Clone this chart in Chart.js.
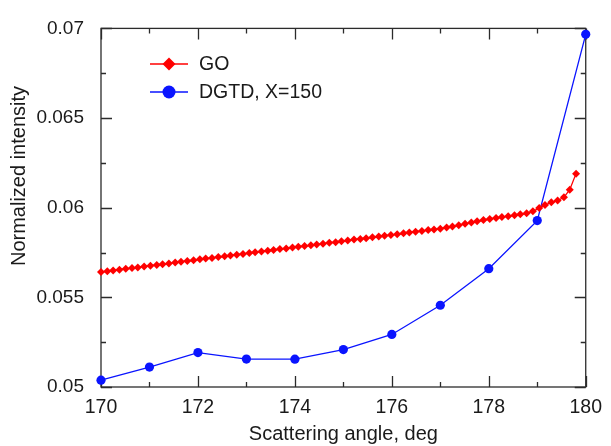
<!DOCTYPE html>
<html><head><meta charset="utf-8">
<script src="https://cdn.jsdelivr.net/npm/chart.js@4/dist/chart.umd.min.js"></script>
<style>html,body{margin:0;padding:0;background:#fff}#wrap{width:611px;height:446px;position:relative}</style>
</head><body><div id="wrap"><canvas id="c" width="611" height="446"></canvas></div>
<script>
// ---- data ----
const goAngles = [170.00,170.13,170.25,170.38,170.51,170.64,170.76,170.89,171.02,171.15,171.27,171.40,171.53,171.65,171.78,171.91,172.04,172.16,172.29,172.42,172.55,172.67,172.80,172.93,173.06,173.18,173.31,173.44,173.56,173.69,173.82,173.95,174.07,174.20,174.33,174.45,174.58,174.71,174.84,174.96,175.09,175.22,175.35,175.47,175.60,175.73,175.85,175.98,176.11,176.24,176.36,176.49,176.62,176.75,176.87,177.00,177.13,177.25,177.38,177.51,177.64,177.76,177.89,178.02,178.15,178.27,178.40,178.53,178.65,178.78,178.91,179.04,179.16,179.29,179.42,179.55,179.67,179.80];
const goIntensity = [0.05641,0.05645,0.05650,0.05654,0.05659,0.05663,0.05667,0.05672,0.05676,0.05681,0.05685,0.05689,0.05694,0.05698,0.05703,0.05707,0.05712,0.05716,0.05720,0.05725,0.05729,0.05733,0.05738,0.05742,0.05747,0.05751,0.05756,0.05760,0.05764,0.05769,0.05773,0.05778,0.05782,0.05786,0.05791,0.05795,0.05799,0.05804,0.05808,0.05813,0.05817,0.05822,0.05826,0.05830,0.05835,0.05839,0.05843,0.05848,0.05852,0.05857,0.05861,0.05866,0.05870,0.05875,0.05879,0.05883,0.05889,0.05895,0.05902,0.05910,0.05917,0.05924,0.05931,0.05937,0.05943,0.05948,0.05953,0.05958,0.05963,0.05969,0.05980,0.05998,0.06015,0.06030,0.06040,0.06058,0.06100,0.06190];
const dgtdAngles = [170,171,172,173,174,175,176,177,178,179,180];
const dgtdIntensity = [0.05038,0.05111,0.05192,0.05156,0.05155,0.05209,0.05293,0.05456,0.05660,0.05928,0.06967];
const seriesNames = ['GO','DGTD, X=150'];
const xTickValues = [170,172,174,176,178,180];
const xMinorTicks = [171,173,175,177,179];
const yTickValues = [0.05,0.055,0.06,0.065,0.07];
const yTickLabels = ['0.05','0.055','0.06','0.065','0.07'];
const yMinorTicks = [0.0525,0.0575,0.0625,0.0675];
const xTitle = 'Scattering angle, deg';
const yTitle = 'Normalized intensity';

const FONT = '"Liberation Sans", Arial, sans-serif';
const AXIS = '#2b2b2b';
const TXT = '#1a1a1a';
const RED = '#ff0000';
const BLUE = '#0a14ff';

const framePlugin = {
  id: 'frame',
  beforeDatasetsDraw(chart) {
    const {ctx, chartArea: a, scales: {x, y}} = chart;
    ctx.save();
    ctx.strokeStyle = AXIS;
    ctx.lineWidth = 1.3;
    ctx.strokeRect(a.left, a.top, a.right - a.left, a.bottom - a.top);
    ctx.beginPath();
    const xt = xTickValues.map(v => [v, 11]).concat(xMinorTicks.map(v => [v, 5]));
    xt.forEach(([v, L]) => {
      const px = Math.round(x.getPixelForValue(v)) + 0.5;
      ctx.moveTo(px, a.bottom); ctx.lineTo(px, a.bottom - L);
      ctx.moveTo(px, a.top); ctx.lineTo(px, a.top + L);
    });
    const yt = yTickValues.map(v => [v, 11]).concat(yMinorTicks.map(v => [v, 5]));
    yt.forEach(([v, L]) => {
      const py = Math.round(y.getPixelForValue(v)) + 0.5;
      ctx.moveTo(a.left, py); ctx.lineTo(a.left + L, py);
      ctx.moveTo(a.right, py); ctx.lineTo(a.right - L, py);
    });
    ctx.stroke();
    ctx.restore();
  },
  afterDraw(chart) {
    const {ctx} = chart;
    ctx.save();
    // y title
    ctx.fillStyle = TXT;
    ctx.font = '20px ' + FONT;
    ctx.textAlign = 'center';
    ctx.textBaseline = 'middle';
    ctx.translate(19, 176);
    ctx.rotate(-Math.PI / 2);
    ctx.fillText(yTitle, 0, 0);
    ctx.restore();
    // legend
    ctx.save();
    const items = [
      {name: seriesNames[0], color: RED, shape: 'diamond', y: 64},
      {name: seriesNames[1], color: BLUE, shape: 'circle', y: 92}
    ];
    items.forEach(it => {
      ctx.strokeStyle = it.color; ctx.lineWidth = 1.3;
      ctx.beginPath(); ctx.moveTo(150, it.y); ctx.lineTo(188, it.y); ctx.stroke();
      ctx.fillStyle = it.color;
      ctx.beginPath();
      if (it.shape === 'diamond') {
        const r = 6.5;
        ctx.moveTo(169, it.y - r); ctx.lineTo(169 + r, it.y); ctx.lineTo(169, it.y + r); ctx.lineTo(169 - r, it.y); ctx.closePath();
      } else {
        ctx.arc(169, it.y, 6.5, 0, Math.PI * 2);
      }
      ctx.fill();
      ctx.fillStyle = TXT;
      ctx.font = '19.5px ' + FONT;
      ctx.textAlign = 'left'; ctx.textBaseline = 'middle';
      ctx.fillText(it.name, 199, it.y + 1);
    });
    ctx.restore();
  }
};

new Chart(document.getElementById('c'), {
  type: 'scatter',
  data: {
    datasets: [
      {
        label: seriesNames[0],
        data: goAngles.map((a, i) => ({x: a, y: goIntensity[i]})),
        showLine: true, borderColor: RED, backgroundColor: RED, borderWidth: 1.3,
        pointStyle: 'rectRot', pointRadius: 4, pointBorderWidth: 0, clip: false
      },
      {
        label: seriesNames[1],
        data: dgtdAngles.map((a, i) => ({x: a, y: dgtdIntensity[i]})),
        showLine: true, borderColor: BLUE, backgroundColor: BLUE, borderWidth: 1.3,
        pointStyle: 'circle', pointRadius: 4.6, pointBorderWidth: 0, clip: false
      }
    ]
  },
  options: {
    responsive: false, animation: false, devicePixelRatio: 1,
    layout: {padding: {top: 20, right: 20, left: 0, bottom: 0}},
    plugins: {legend: {display: false}, tooltip: {enabled: false}},
    scales: {
      x: {
        type: 'linear', min: 170, max: 180,
        afterBuildTicks: s => { s.ticks = xTickValues.map(v => ({value: v})); },
        afterFit: s => { s.height = 59; },
        grid: {display: false, drawTicks: false}, border: {display: false},
        ticks: {color: TXT, font: {family: FONT, size: 19.5}, padding: 9, maxRotation: 0, autoSkip: false},
        title: {display: true, text: xTitle, color: TXT, font: {family: FONT, size: 20}, padding: {top: 0, bottom: 0}}
      },
      y: {
        type: 'linear', min: 0.05, max: 0.07,
        afterBuildTicks: s => { s.ticks = yTickValues.map(v => ({value: v})); },
        afterFit: s => { s.width = 101; },
        grid: {display: false, drawTicks: false}, border: {display: false},
        ticks: {color: TXT, font: {family: FONT, size: 19}, padding: 17, autoSkip: false,
          callback: (v, i) => yTickLabels[i]}
      }
    }
  },
  plugins: [framePlugin]
});
</script></body></html>
